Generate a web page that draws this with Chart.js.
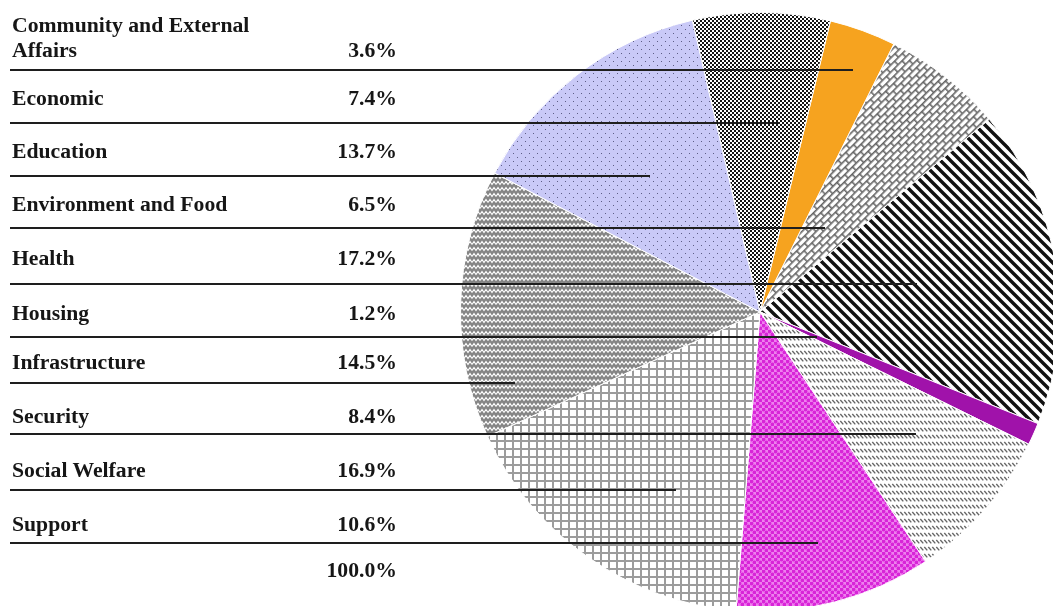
<!DOCTYPE html>
<html>
<head>
<meta charset="utf-8">
<script src="https://cdn.jsdelivr.net/npm/chart.js@4.4.0/dist/chart.umd.min.js"></script>
<style>
  html, body { margin: 0; padding: 0; background: #fff; }
  body {
    position: relative; width: 1053px; height: 606px; overflow: hidden;
    font-family: 'Liberation Serif', 'Times New Roman', serif;
  }
  #pie { position: absolute; left: 0; top: 0; }
  .row {
    position: absolute; left: 12px; width: 385px; z-index: 2;
    display: flex; justify-content: space-between; align-items: flex-end;
    font-weight: bold; font-size: 21.7px; line-height: 25px; color: #161616;
  }
  .row .lab { width: 262px; }
  .rule { position: absolute; left: 10px; height: 2px; background: #1e1e1e; z-index: 3; }
</style>
</head>
<body>
<canvas id="pie" width="1080" height="640"></canvas>
<script>
// table order
const categories = ['Community and External Affairs', 'Economic', 'Education', 'Environment and Food',
  'Health', 'Housing', 'Infrastructure', 'Security', 'Social Welfare', 'Support'];
const shares = [3.6, 7.4, 13.7, 6.5, 17.2, 1.2, 14.5, 8.4, 16.9, 10.6];
const totalLabel = '100.0%';

// order of the slices, clockwise from the orange one
const pieOrder = [0, 3, 4, 5, 7, 9, 8, 6, 2, 1];

// layout of the table (pixels)
const textBase = [58, 106, 159, 212, 266, 321, 370, 424, 478, 532];
const totalBase = 578;
const ruleY = [70, 123, 176, 228, 284, 337, 383, 434, 490, 543];
const ruleEnd = [853, 780, 650, 825, 917, 817, 515, 916, 676, 818];

const canvas = document.getElementById('pie');
const ctx = canvas.getContext('2d');

function makePattern(w, h, draw, rotate) {
  const c = document.createElement('canvas');
  c.width = w; c.height = h;
  const g = c.getContext('2d');
  draw(g, w, h);
  const p = ctx.createPattern(c, 'repeat');
  if (rotate) p.setTransform(new DOMMatrix().rotateSelf(rotate));
  return p;
}

const fills = {
  'Community and External Affairs': '#f6a31f',
  'Economic': makePattern(4, 4, g => {
    g.fillStyle = '#fff'; g.fillRect(0, 0, 4, 4);
    g.fillStyle = '#141414'; g.fillRect(0, 0, 2, 2); g.fillRect(2, 2, 2, 2);
  }),
  'Education': makePattern(8, 8, g => {
    g.fillStyle = '#c9c9f7'; g.fillRect(0, 0, 8, 8);
    g.fillStyle = '#5d5d86'; g.fillRect(1, 1, 1, 1); g.fillRect(5, 5, 1, 1);
  }),
  'Environment and Food': makePattern(11, 10, g => {
    g.fillStyle = '#fff'; g.fillRect(0, 0, 11, 10);
    g.fillStyle = '#666';
    g.fillRect(0, 0, 11, 1.6); g.fillRect(0, 5, 11, 1.6);
    g.fillRect(0, 0, 1.6, 5); g.fillRect(5.5, 5, 1.6, 5);
  }, -45),
  'Health': makePattern(10, 10, g => {
    g.fillStyle = '#fff'; g.fillRect(0, 0, 10, 10);
    g.strokeStyle = '#111'; g.lineWidth = 3.4;
    g.beginPath();
    g.moveTo(-5, -5); g.lineTo(15, 15);
    g.moveTo(-5, 5); g.lineTo(5, 15);
    g.moveTo(5, -5); g.lineTo(15, 5);
    g.stroke();
  }),
  'Housing': '#a012aa',
  'Security': makePattern(4, 7, g => {
    g.fillStyle = '#fff'; g.fillRect(0, 0, 4, 7);
    g.strokeStyle = '#666'; g.lineWidth = 1.4;
    g.beginPath(); g.moveTo(0.3, 1); g.lineTo(3.3, 4.4);
    g.moveTo(-3.7, 1); g.lineTo(-0.7, 4.4);
    g.moveTo(4.3, 1); g.lineTo(7.3, 4.4);
    g.stroke();
  }),
  'Social Welfare': makePattern(8, 8, g => {
    g.fillStyle = '#fff'; g.fillRect(0, 0, 8, 8);
    g.fillStyle = '#9c9c9c'; g.fillRect(0, 0, 8, 2); g.fillRect(0, 0, 2, 8);
  }),
  'Infrastructure': makePattern(8, 6, g => {
    g.fillStyle = '#858585'; g.fillRect(0, 0, 8, 6);
    g.strokeStyle = '#fff'; g.lineWidth = 1.2;
    g.beginPath();
    g.moveTo(0, 4.5); g.lineTo(2, 1.5); g.lineTo(4, 4.5); g.lineTo(6, 1.5); g.lineTo(8, 4.5);
    g.stroke();
  }),
  'Support': makePattern(6, 6, g => {
    g.fillStyle = '#ee80ee'; g.fillRect(0, 0, 6, 6);
    g.fillStyle = '#d824d8';
    g.beginPath(); g.arc(1.5, 1.5, 1.9, 0, Math.PI * 2); g.fill();
    g.beginPath(); g.arc(4.5, 4.5, 1.9, 0, Math.PI * 2); g.fill();
  })
};

const pieLabels = pieOrder.map(i => categories[i]);
const pieValues = pieOrder.map(i => shares[i]);

new Chart(ctx, {
  type: 'pie',
  data: {
    labels: pieLabels,
    datasets: [{
      data: pieValues,
      backgroundColor: pieLabels.map(l => fills[l]),
      borderWidth: 1,
      borderColor: '#fff'
    }]
  },
  options: {
    responsive: false,
    animation: false,
    rotation: 13.6,
    layout: { padding: { left: 460, top: 12, right: 20, bottom: 28 } },
    plugins: { legend: { display: false }, tooltip: { enabled: false } }
  }
});

// table rows and rules
function addRow(label, value, base) {
  const row = document.createElement('div');
  row.className = 'row';
  row.style.bottom = (606 - (base + 5.4)) + 'px';
  row.innerHTML = `<span class="lab">${label}</span><span class="val">${value}</span>`;
  document.body.appendChild(row);
}

categories.forEach((c, i) => {
  addRow(c, shares[i].toFixed(1) + '%', textBase[i]);
  const r = document.createElement('div');
  r.className = 'rule';
  r.style.top = (ruleY[i] - 1) + 'px';
  r.style.width = (ruleEnd[i] - 10) + 'px';
  document.body.appendChild(r);
});
addRow('', totalLabel, totalBase);
</script>
</body>
</html>
